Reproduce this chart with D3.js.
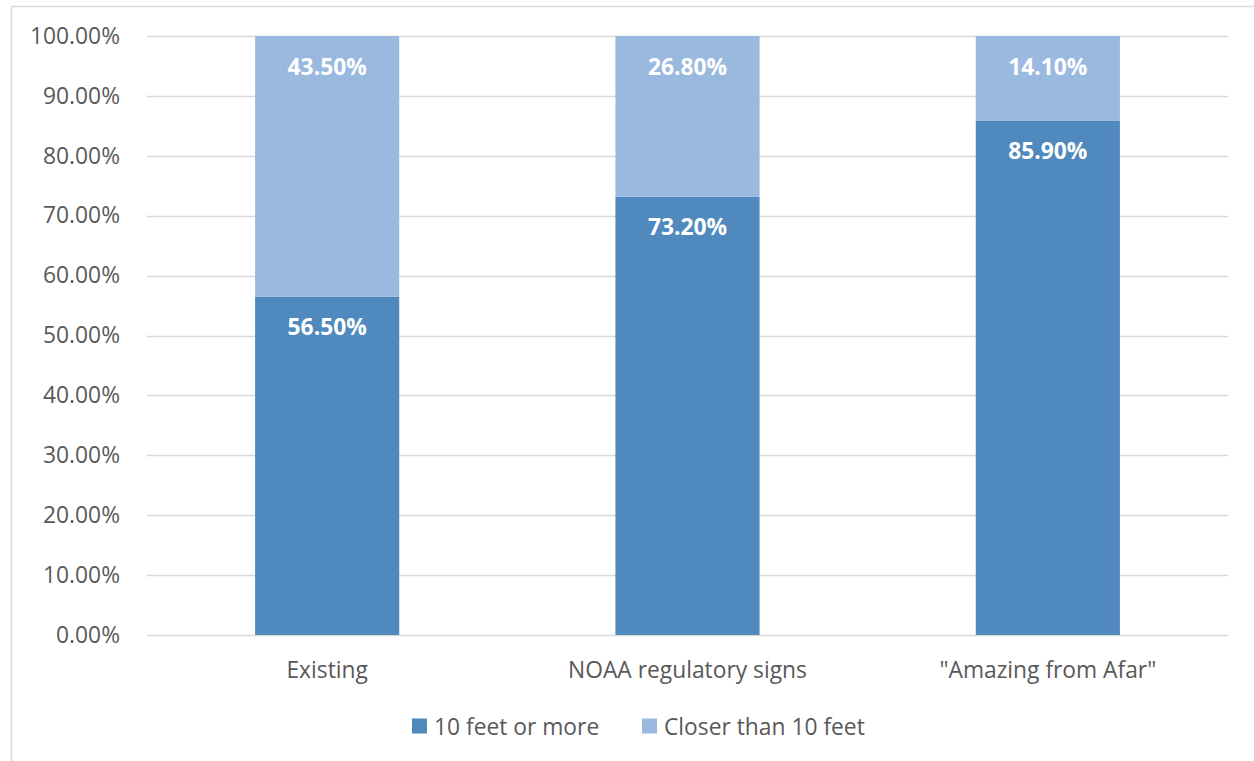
<!DOCTYPE html>
<html>
<head>
<meta charset="utf-8">
<script src="https://cdn.jsdelivr.net/npm/d3@7"></script>
<style>
  html, body { margin: 0; padding: 0; background: #fff; }
  svg { display: block; font-family: "Open Sans", "Noto Sans", sans-serif; }
</style>
</head>
<body>
<svg id="chart" width="1254" height="761"></svg>
<script>
// Share of visitors by viewing distance, per sign type
const categories = ["Existing", "NOAA regulatory signs", "\"Amazing from Afar\""];
const seriesNames = ["10 feet or more", "Closer than 10 feet"];
const farValues = [56.5, 73.2, 85.9];
const closeValues = [43.5, 26.8, 14.1];
const yTicks = [0, 10, 20, 30, 40, 50, 60, 70, 80, 90, 100];
const colors = ["#4F89BD", "#99B9DF"];

const svg = d3.select("#chart");
const W = 1254, H = 761;
const margin = { left: 147, right: 26, top: 36, bottom: 126 };
const fontSize = 22.8;

// chart border
svg.append("rect")
  .attr("x", 11.5).attr("y", 6.5)
  .attr("width", W + 20).attr("height", H + 20)
  .attr("fill", "none").attr("stroke", "#d9d9d9").attr("stroke-width", 1.5);

const x = d3.scaleBand()
  .domain(categories)
  .range([margin.left, W - margin.right])
  .paddingInner(0.6).paddingOuter(0.3);

const y = d3.scaleLinear()
  .domain([0, 100])
  .range([H - margin.bottom, margin.top]);

// gridlines
svg.append("g")
  .selectAll("line")
  .data(yTicks)
  .join("line")
  .attr("x1", margin.left).attr("x2", W - margin.right)
  .attr("y1", d => Math.round(y(d)) + 0.5).attr("y2", d => Math.round(y(d)) + 0.5)
  .attr("stroke", "#d9d9d9").attr("stroke-width", 1.3);

// y axis labels
const yAxis = d3.axisLeft(y).tickValues(yTicks).tickSize(0).tickPadding(27)
  .tickFormat(d => d.toFixed(2) + "%");
const gy = svg.append("g").attr("transform", `translate(${margin.left},0)`).call(yAxis);
gy.select(".domain").remove();
gy.selectAll("text")
  .attr("fill", "#595959").attr("font-size", fontSize)
  .attr("font-family", "\"Open Sans\", sans-serif");

// stacked data
const rows = categories.map((c, i) => ({ cat: c, far: farValues[i], close: closeValues[i] }));
const stack = d3.stack().keys(["far", "close"]);
const layers = stack(rows);

const gBars = svg.append("g");
layers.forEach((layer, li) => {
  gBars.append("g")
    .selectAll("rect")
    .data(layer)
    .join("rect")
    .attr("x", d => x(d.data.cat))
    .attr("width", x.bandwidth())
    .attr("y", d => y(d[1]))
    .attr("height", d => y(d[0]) - y(d[1]))
    .attr("fill", colors[li]);
  gBars.append("g")
    .selectAll("text")
    .data(layer)
    .join("text")
    .attr("x", d => x(d.data.cat) + x.bandwidth() / 2)
    .attr("y", d => y(d[1]) + 30)
    .attr("text-anchor", "middle")
    .attr("dominant-baseline", "central")
    .attr("fill", "#fff")
    .attr("font-weight", "bold")
    .attr("font-size", fontSize)
    .text(d => (d[1] - d[0]).toFixed(2) + "%");
});

// x axis labels
const xAxis = d3.axisBottom(x).tickSize(0).tickPadding(27);
const gx = svg.append("g").attr("transform", `translate(0,${y(0)})`).call(xAxis);
gx.select(".domain").remove();
gx.selectAll("text")
  .attr("fill", "#595959").attr("font-size", fontSize)
  .attr("font-family", "\"Open Sans\", sans-serif");

// legend
const legend = svg.append("g").attr("transform", "translate(412,726)");
const items = [{ name: seriesNames[0], x: 0, c: colors[0] }, { name: seriesNames[1], x: 230, c: colors[1] }];
const li = legend.selectAll("g").data(items).join("g").attr("transform", d => `translate(${d.x},0)`);
li.append("rect").attr("x", 0).attr("y", -7.5).attr("width", 15).attr("height", 15).attr("fill", d => d.c);
li.append("text").attr("x", 22).attr("y", 0).attr("dominant-baseline", "central")
  .attr("fill", "#595959").attr("font-size", fontSize).text(d => d.name);
</script>
</body>
</html>
